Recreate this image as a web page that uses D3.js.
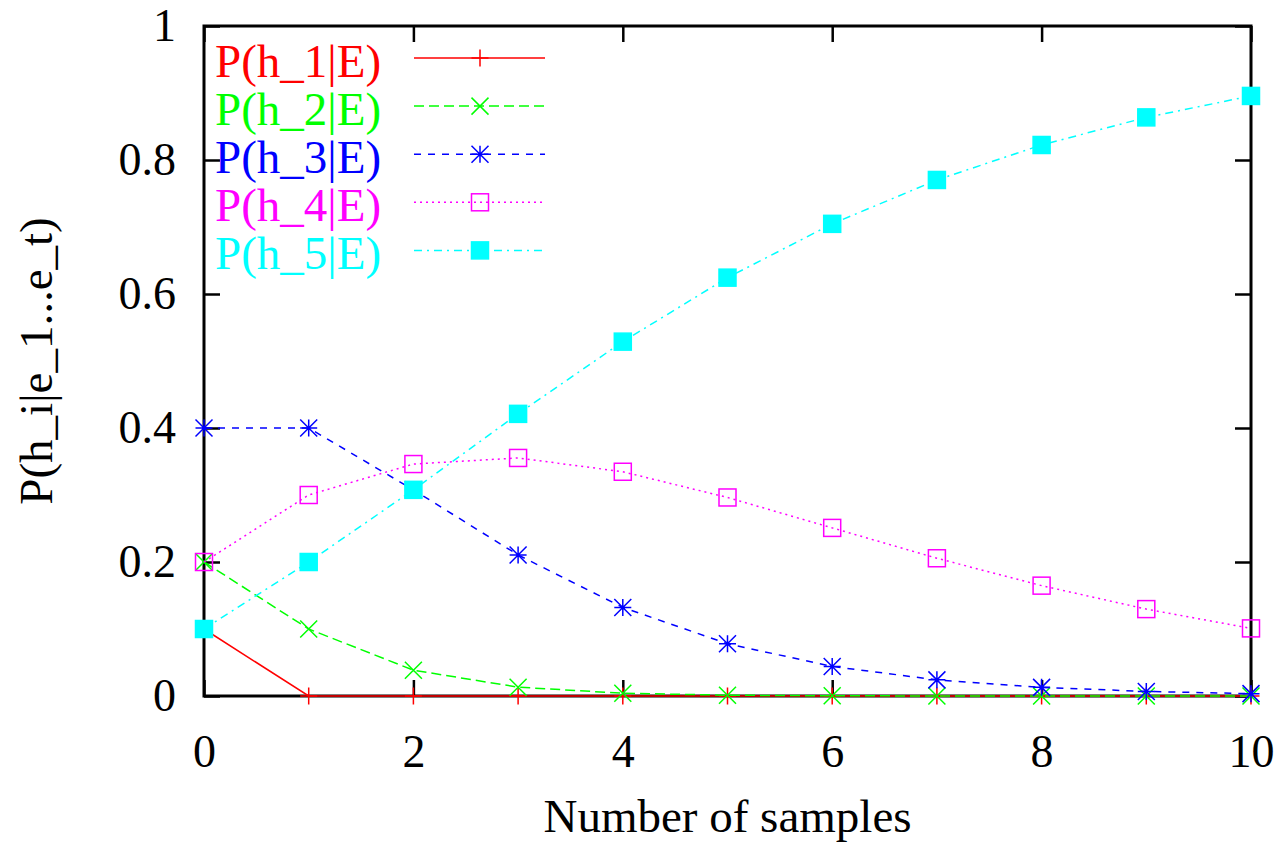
<!DOCTYPE html>
<html>
<head>
<meta charset="utf-8">
<script src="https://cdn.jsdelivr.net/npm/d3@7"></script>
<style>
  body { margin: 0; background: #fff; }
  text { font-family: "Liberation Serif", "Times New Roman", serif; }
</style>
</head>
<body>
<svg id="chart" width="1280" height="843"></svg>
<script>
var samples = [0, 1, 2, 3, 4, 5, 6, 7, 8, 9, 10];
var h1 = [0.1, 0, 0, 0, 0, 0, 0, 0, 0, 0, 0];
var h2 = [0.2, 0.1, 0.0385, 0.0132, 0.0041, 0.0012, 0.0003, 0.0001, 0, 0, 0];
var h3 = [0.4, 0.4, 0.3077, 0.2105, 0.1322, 0.078, 0.0441, 0.0241, 0.0129, 0.0068, 0.0035];
var h4 = [0.2, 0.3, 0.3462, 0.3553, 0.3347, 0.2963, 0.2509, 0.2056, 0.1647, 0.1297, 0.1009];
var h5 = [0.1, 0.2, 0.3077, 0.4211, 0.5289, 0.6244, 0.7047, 0.7702, 0.8224, 0.8636, 0.8956];
var seriesNames = ["P(h_1|E)", "P(h_2|E)", "P(h_3|E)", "P(h_4|E)", "P(h_5|E)"];
var xTicks = [0, 2, 4, 6, 8, 10];
var yTicks = [0, 0.2, 0.4, 0.6, 0.8, 1];

var series = [h1, h2, h3, h4, h5];
var colors = ["#ff0000", "#00ff00", "#0000ff", "#ff00ff", "#00ffff"];
var dashes = [null, "10,5", "7,7", "2,4", "8,5,2,5"];
var markers = ["plus", "cross", "star", "box", "filledbox"];

var margin = { top: 26, right: 29, bottom: 147, left: 204 };
var width = 1280 - margin.left - margin.right;
var height = 843 - margin.top - margin.bottom;

var svg = d3.select("#chart");
svg.append("rect").attr("width", 1280).attr("height", 843).attr("fill", "#fff");

var x = d3.scaleLinear().domain([0, 10]).range([0, width]);
var y = d3.scaleLinear().domain([0, 1]).range([height, 0]);

var g = svg.append("g").attr("transform", "translate(" + margin.left + "," + margin.top + ")");

// frame with inward ticks on all four sides (gnuplot style)
g.append("rect")
  .attr("width", width)
  .attr("height", height)
  .attr("fill", "none")
  .attr("stroke", "#000")
  .attr("stroke-width", 3);

var fmt = function(d) { return d3.format("~g")(d); };

g.append("g")
  .attr("transform", "translate(0," + height + ")")
  .call(d3.axisBottom(x).tickValues(xTicks).tickSizeInner(-16).tickSizeOuter(0).tickPadding(38).tickFormat(fmt));
g.append("g")
  .call(d3.axisTop(x).tickValues(xTicks).tickSizeInner(-16).tickSizeOuter(0).tickFormat(""));
g.append("g")
  .call(d3.axisLeft(y).tickValues(yTicks).tickSizeInner(-16).tickSizeOuter(0).tickPadding(28).tickFormat(fmt));
g.append("g")
  .attr("transform", "translate(" + width + ",0)")
  .call(d3.axisRight(y).tickValues(yTicks).tickSizeInner(-16).tickSizeOuter(0).tickFormat(""));

g.selectAll(".domain").remove();
g.selectAll(".tick line").attr("stroke", "#000").attr("stroke-width", 2.5);
g.selectAll(".tick text").attr("fill", "#000").style("font-size", "46px").style("font-family", "Liberation Serif, serif");

// axis titles
svg.append("text")
  .attr("x", margin.left + width / 2)
  .attr("y", 832)
  .attr("text-anchor", "middle")
  .style("font-size", "47px")
  .text("Number of samples");

svg.append("text")
  .attr("transform", "translate(52," + (margin.top + height / 2) + ") rotate(-90)")
  .attr("text-anchor", "middle")
  .style("font-size", "47px")
  .text("P(h_i|e_1...e_t)");

function drawMarker(sel, type, color) {
  var s = 8.5;
  if (type === "box" || type === "filledbox") {
    sel.append("rect")
      .attr("x", -s).attr("y", -s)
      .attr("width", 2 * s).attr("height", 2 * s)
      .attr("fill", type === "filledbox" ? color : "none")
      .attr("stroke", color)
      .attr("stroke-width", 1.5);
    return;
  }
  var p = "";
  if (type === "plus" || type === "star") p += "M" + (-s) + ",0H" + s + "M0," + (-s) + "V" + s;
  if (type === "cross" || type === "star") p += "M" + (-s) + "," + (-s) + "L" + s + "," + s + "M" + (-s) + "," + s + "L" + s + "," + (-s);
  sel.append("path").attr("d", p).attr("fill", "none").attr("stroke", color).attr("stroke-width", 1.5);
}

var line = d3.line()
  .x(function(d, i) { return x(samples[i]); })
  .y(function(d) { return y(d); });

series.forEach(function(vals, k) {
  g.append("path")
    .datum(vals)
    .attr("d", line)
    .attr("fill", "none")
    .attr("stroke", colors[k])
    .attr("stroke-width", 1.5)
    .attr("stroke-dasharray", dashes[k]);

  g.selectAll(null)
    .data(vals)
    .enter()
    .append("g")
    .attr("transform", function(d, i) { return "translate(" + x(samples[i]) + "," + y(d) + ")"; })
    .each(function() { drawMarker(d3.select(this), markers[k], colors[k]); });
});

// legend
var legend = svg.append("g").attr("transform", "translate(0,58)");
seriesNames.forEach(function(name, k) {
  var row = legend.append("g").attr("transform", "translate(0," + k * 48.1 + ")");
  row.append("text")
    .attr("x", 215)
    .attr("y", 19)
    .attr("fill", colors[k])
    .style("font-size", "47px")
    .text(name);
  row.append("line")
    .attr("x1", 414).attr("x2", 545)
    .attr("stroke", colors[k])
    .attr("stroke-width", 1.5)
    .attr("stroke-dasharray", dashes[k]);
  var m = row.append("g").attr("transform", "translate(480,0)");
  drawMarker(m, markers[k], colors[k]);
});
</script>
</body>
</html>
